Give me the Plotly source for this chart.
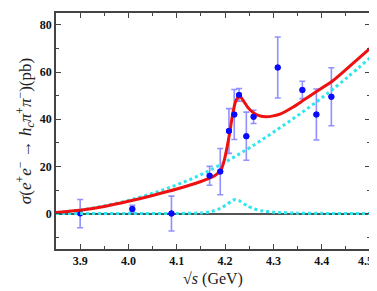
import plotly.graph_objects as go

# Data points
x_data = [3.90, 4.008, 4.089, 4.168, 4.190, 4.208, 4.219, 4.229, 4.244, 4.259, 4.309, 4.360, 4.389, 4.420]
y_data = [0.0, 2.0, 0.0, 16.0, 17.8, 35.0, 42.0, 50.3, 32.8, 41.0, 61.9, 52.4, 42.0, 49.5]
y_err = [6.0, 1.5, 7.4, 4.0, 9.8, 9.5, 10.6, 2.7, 10.2, 2.8, 12.9, 3.7, 10.8, 12.3]

# Total fit curve
fit_x = [3.85, 3.90, 3.95, 4.00, 4.05, 4.10, 4.15, 4.17, 4.18, 4.188, 4.193, 4.198, 4.203, 4.210, 4.216, 4.222,
         4.230, 4.238, 4.247, 4.257, 4.267, 4.284, 4.300, 4.315, 4.342, 4.362, 4.390, 4.423, 4.450, 4.500]
fit_y = [0.5, 1.4, 3.0, 5.2, 7.7, 10.4, 13.6, 15.2, 16.3, 17.6, 19.2, 22.3, 27.0, 34.8, 42.5, 47.6,
         49.8, 47.8, 45.0, 43.0, 41.7, 41.0, 41.4, 42.3, 45.3, 48.0, 51.8, 56.3, 61.0, 70.0]

# Background curve
bg_x = [3.85, 3.90, 3.95, 4.00, 4.05, 4.10, 4.15, 4.20, 4.25, 4.30, 4.35, 4.40, 4.45, 4.50]
bg_y = [0.3, 1.5, 3.3, 5.6, 8.6, 12.2, 16.5, 21.8, 27.8, 34.5, 41.5, 49.0, 57.2, 66.0]

# Resonance curve
res_x = [3.85, 4.00, 4.10, 4.15, 4.17, 4.19, 4.205, 4.215, 4.222, 4.230, 4.245, 4.260, 4.275, 4.300, 4.350, 4.400, 4.500]
res_y = [0.0, 0.0, 0.05, 0.3, 0.8, 2.2, 4.0, 5.6, 6.0, 5.4, 3.4, 2.0, 1.2, 0.6, 0.2, 0.1, 0.0]

x_ticks = [3.9, 4.0, 4.1, 4.2, 4.3, 4.4, 4.5]
x_tick_labels = ["3.9", "4.0", "4.1", "4.2", "4.3", "4.4", "4.5\u00a0\u00a0\u00a0"]
y_ticks = [0, 20, 40, 60, 80]

serif = "Liberation Serif, Times New Roman, DejaVu Serif, serif"
cyan = "#2ee6ee"
fig = go.Figure()

fig.add_trace(go.Scatter(x=x_data, y=y_data, mode="markers",
    marker=dict(color="#0a0aff", size=6),
    error_y=dict(type="data", array=y_err, visible=True, color="rgba(70,70,255,0.6)", thickness=1.6, width=3),
    hoverinfo="skip"))
fig.add_trace(go.Scatter(x=res_x, y=res_y, mode="lines", line=dict(color=cyan, width=3, dash="dot", shape="spline", smoothing=0.6), hoverinfo="skip"))
fig.add_trace(go.Scatter(x=bg_x, y=bg_y, mode="lines", line=dict(color=cyan, width=3, dash="dot", shape="spline"), hoverinfo="skip"))
fig.add_trace(go.Scatter(x=fit_x, y=fit_y, mode="lines", line=dict(color="#ee1111", width=3, shape="spline", smoothing=0.6), hoverinfo="skip"))
fig.add_trace(go.Scatter(x=x_data[1:], y=y_data[1:], mode="markers",
    marker=dict(color="#0a0aff", size=6), hoverinfo="skip"))

axis_common = dict(
    showline=True, linecolor="#444", linewidth=1.5, mirror="ticks",
    ticks="inside", ticklen=5, tickcolor="#444", tickwidth=1.2,
    showgrid=False, ticklabeloverflow="allow",
    tickfont=dict(family=serif, size=12, color="#111", weight="bold"),
)

fig.update_layout(
    width=377, height=291,
    margin=dict(l=48, r=9, t=3, b=50),
    paper_bgcolor="white", plot_bgcolor="white",
    showlegend=False,
    xaxis=dict(range=[3.85, 4.5], tickvals=x_ticks, ticktext=x_tick_labels,
               minor=dict(dtick=0.05, ticks="inside", ticklen=3, tickcolor="#444"),
               zeroline=False,
               title=dict(text="√<i>s</i> (GeV)", font=dict(family=serif, size=16, color="#222"), standoff=6),
               **axis_common),
    yaxis=dict(range=[-15, 85], tickvals=y_ticks,
               minor=dict(dtick=10, ticks="inside", ticklen=3, tickcolor="#444"),
               zeroline=True, zerolinecolor="#555", zerolinewidth=2,
               title=dict(text="<i>σ</i>(<i>e</i><sup>+</sup><i>e</i><sup>−</sup> → <i>h<sub>c</sub>π</i><sup>+</sup><i>π</i><sup>−</sup>)(pb)",
                          font=dict(family=serif, size=17, color="#222"), standoff=4),
               **axis_common),
)

fig.write_html("out.html")
